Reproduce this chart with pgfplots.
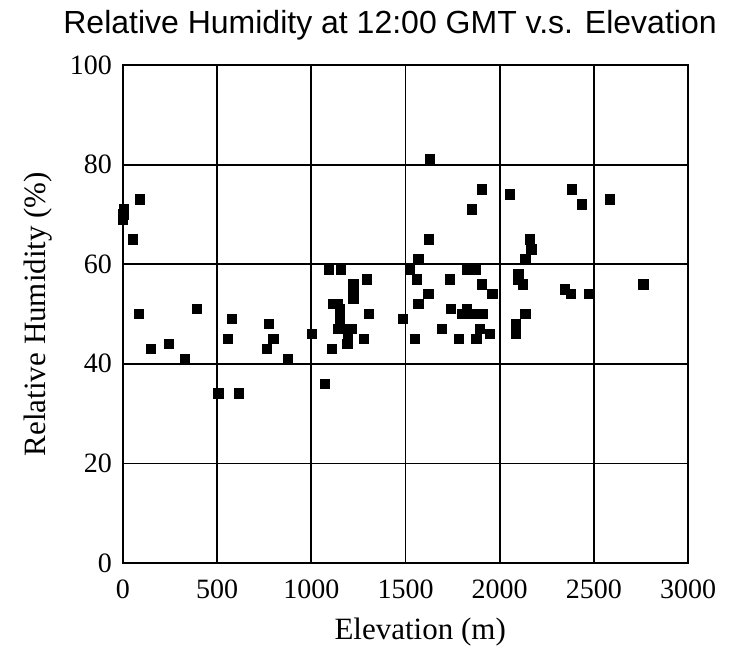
\documentclass[border=0pt]{standalone}
\usepackage{pgfplots}
\pgfplotsset{compat=1.18}
\usepackage{fontspec}
\setmainfont{Liberation Serif}
\newfontfamily\titlefont{Liberation Sans}
\begin{document}
\begin{tikzpicture}
\useasboundingbox (-61.5pt,-49pt) rectangle (304pt,281.5pt);
\begin{axis}[
  scale only axis,
  width=282.5pt, height=249pt,
  xmin=0, xmax=3000, ymin=0, ymax=100,
  xtick={0,500,...,3000}, ytick={0,20,...,100},
  grid=major,
  major grid style={black, line width=0.9pt},
  axis line style={black, line width=1pt},
  major tick length=0pt,
  /pgf/number format/assume math mode=true,
  /pgf/number format/set thousands separator={},
  tick label style={font=\fontsize{14}{16}\selectfont},
  xticklabel style={yshift=-5pt},
  yticklabel style={xshift=-2pt},
  label style={font=\fontsize{15.5}{18}\selectfont},
  xlabel={Elevation (m)},
  ylabel={Relative Humidity (\%)},
  xlabel style={at={(axis description cs:0.526,0)}, anchor=north, yshift=-24pt},
  ylabel style={at={(axis description cs:0,0.5)}, anchor=south, yshift=32pt},
  title={Relative Humidity at 12:00 GMT v.s. Elevation},
  title style={font=\titlefont\fontsize{16}{18}\selectfont, at={(axis description cs:0.4726,1)}, anchor=south, yshift=3pt},
]
\addplot[only marks, mark=square*, mark size=2.4pt, black] coordinates {
(0,69) (3,70) (5,71) (90,73) (53,65) (85,50) (393,51) (149,43) (244,44) (329,41)
(505,34) (616,34) (579,49) (558,45) (775,48) (797,45) (765,43) (876,41) (1003,46)
(1073,36) (1094,59) (1157,59) (1295,57) (1222,56) (1222,55) (1222,54) (1222,53)
(1115,52) (1140,52) (1152,51) (1152,49) (1152,48) (1168,47) (1195,46) (1216,47)
(1190,44) (1280,45) (1306,50) (1110,43) (1180,47) (1140,47)
(1487,49) (1524,59) (1550,45) (1567,52) (1561,57) (1567,61) (1620,54) (1625,65)
(1630,81) (1694,47) (1742,51) (1736,57) (1784,45) (1800,50) (1827,51) (1840,50)
(1827,59) (1870,59) (1853,71) (1875,45) (1880,50) (1896,47) (1906,56) (1906,75)
(1949,46) (1960,54) (1910,50)
(2055,74) (2087,48) (2087,47) (2087,46) (2098,58) (2098,57) (2124,56) (2135,50)
(2135,61) (2161,65) (2170,63) (2347,55) (2379,54) (2384,75) (2437,72) (2475,54)
(2586,73) (2762,56)
};
\end{axis}
\end{tikzpicture}
\end{document}
